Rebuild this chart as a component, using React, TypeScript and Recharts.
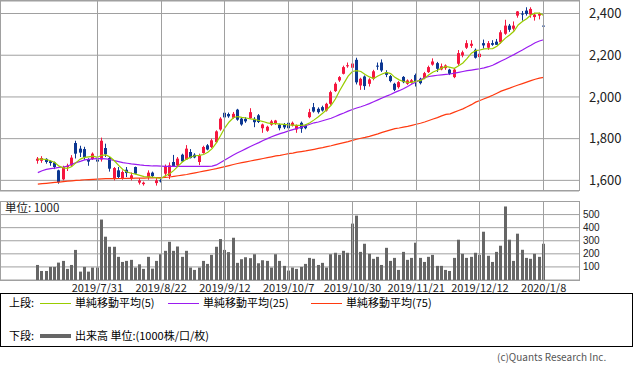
import { ComposedChart, Bar, Line, XAxis, YAxis, CartesianGrid } from "recharts";

const FONT = '"Noto Sans CJK JP", "Noto Sans", sans-serif';
const UP = "#f5173f";
const DOWN = "#0c3792";
const GRID = "#a0a0a0";

// trading days 2019/7/10 - 2020/1/8
const dates = [
  "2019/7/10", "2019/7/11", "2019/7/12", "2019/7/16", "2019/7/17", "2019/7/18", "2019/7/19", "2019/7/22", "2019/7/23", "2019/7/24",
  "2019/7/25", "2019/7/26", "2019/7/29", "2019/7/30", "2019/7/31", "2019/8/1", "2019/8/2", "2019/8/5", "2019/8/6", "2019/8/7",
  "2019/8/8", "2019/8/9", "2019/8/13", "2019/8/14", "2019/8/15", "2019/8/16", "2019/8/19", "2019/8/20", "2019/8/21", "2019/8/22",
  "2019/8/23", "2019/8/26", "2019/8/27", "2019/8/28", "2019/8/29", "2019/8/30", "2019/9/2", "2019/9/3", "2019/9/4", "2019/9/5",
  "2019/9/6", "2019/9/9", "2019/9/10", "2019/9/11", "2019/9/12", "2019/9/13", "2019/9/17", "2019/9/18", "2019/9/19", "2019/9/20",
  "2019/9/24", "2019/9/25", "2019/9/26", "2019/9/27", "2019/9/30", "2019/10/1", "2019/10/2", "2019/10/3", "2019/10/4", "2019/10/7",
  "2019/10/8", "2019/10/9", "2019/10/10", "2019/10/11", "2019/10/15", "2019/10/16", "2019/10/17", "2019/10/18", "2019/10/21", "2019/10/23",
  "2019/10/24", "2019/10/25", "2019/10/28", "2019/10/29", "2019/10/30", "2019/10/31", "2019/11/1", "2019/11/5", "2019/11/6", "2019/11/7",
  "2019/11/8", "2019/11/11", "2019/11/12", "2019/11/13", "2019/11/14", "2019/11/15", "2019/11/18", "2019/11/19", "2019/11/20", "2019/11/21",
  "2019/11/22", "2019/11/25", "2019/11/26", "2019/11/27", "2019/11/28", "2019/11/29", "2019/12/2", "2019/12/3", "2019/12/4", "2019/12/5",
  "2019/12/6", "2019/12/9", "2019/12/10", "2019/12/11", "2019/12/12", "2019/12/13", "2019/12/16", "2019/12/17", "2019/12/18", "2019/12/19",
  "2019/12/20", "2019/12/23", "2019/12/24", "2019/12/25", "2019/12/26", "2019/12/27", "2019/12/30", "2020/1/6", "2020/1/7", "2020/1/8",
];

const openPrice = [
  1694, 1694, 1703, 1692, 1686, 1648, 1605, 1664, 1672, 1779,
  1752, 1750, 1702, 1702, 1700, 1700, 1755, 1707, 1608, 1648,
  1608, 1651, 1611, 1664, 1589, 1582, 1616, 1637, 1587, 1600,
  1632, 1621, 1688, 1672, 1723, 1700, 1736, 1723, 1688, 1731,
  1768, 1760, 1783, 1844, 1924, 1918, 1900, 1939, 1896, 1895,
  1898, 1895, 1912, 1850, 1838, 1867, 1872, 1867, 1870, 1876,
  1863, 1844, 1876, 1863, 1903, 1951, 1943, 1951, 1935, 1967,
  2028, 2079, 2111, 2147, 2140, 2178, 2055, 2098, 2063, 2087,
  2150, 2165, 2119, 2100, 2063, 2047, 2096, 2063, 2069, 2105,
  2087, 2090, 2119, 2155, 2162, 2132, 2138, 2131, 2095, 2159,
  2199, 2236, 2245, 2226, 2191, 2258, 2236, 2258, 2265, 2262,
  2303, 2342, 2327, 2390, 2400, 2414, 2395, 2383, 2390, 2342,
];

const highPrice = [
  1712, 1716, 1706, 1696, 1690, 1651, 1670, 1680, 1721, 1790,
  1766, 1761, 1706, 1734, 1704, 1805, 1776, 1712, 1664, 1664,
  1648, 1664, 1638, 1666, 1610, 1594, 1648, 1642, 1613, 1606,
  1676, 1686, 1722, 1712, 1728, 1769, 1750, 1730, 1728, 1766,
  1774, 1800, 1840, 1903, 1935, 1925, 1928, 1943, 1900, 1903,
  1946, 1903, 1918, 1872, 1862, 1890, 1890, 1872, 1875, 1880,
  1882, 1868, 1882, 1868, 1943, 1971, 1950, 1958, 1972, 2030,
  2070, 2100, 2150, 2165, 2168, 2188, 2092, 2103, 2090, 2130,
  2165, 2180, 2128, 2105, 2068, 2076, 2100, 2084, 2086, 2112,
  2092, 2120, 2150, 2185, 2168, 2160, 2156, 2135, 2138, 2225,
  2222, 2272, 2272, 2232, 2214, 2275, 2268, 2272, 2278, 2320,
  2370, 2350, 2362, 2412, 2412, 2430, 2430, 2404, 2404, 2354,
];

const lowPrice = [
  1680, 1684, 1680, 1670, 1654, 1584, 1600, 1645, 1668, 1705,
  1712, 1699, 1670, 1698, 1686, 1690, 1712, 1642, 1600, 1610,
  1603, 1616, 1600, 1629, 1580, 1575, 1603, 1615, 1575, 1590,
  1618, 1606, 1665, 1664, 1688, 1698, 1705, 1706, 1673, 1728,
  1744, 1755, 1780, 1838, 1891, 1900, 1896, 1886, 1862, 1876,
  1895, 1855, 1875, 1828, 1833, 1862, 1866, 1840, 1846, 1845,
  1858, 1828, 1828, 1845, 1898, 1925, 1920, 1930, 1930, 1962,
  2024, 2072, 2108, 2140, 2135, 2060, 2034, 2034, 2050, 2080,
  2130, 2120, 2095, 2070, 2028, 2040, 2066, 2058, 2064, 2050,
  2060, 2085, 2115, 2150, 2120, 2128, 2130, 2105, 2090, 2150,
  2190, 2230, 2235, 2184, 2176, 2232, 2226, 2245, 2250, 2255,
  2298, 2312, 2318, 2380, 2366, 2390, 2380, 2366, 2372, 2298,
];

const closePrice = [
  1704, 1707, 1688, 1683, 1664, 1592, 1664, 1670, 1709, 1728,
  1733, 1712, 1690, 1728, 1690, 1790, 1725, 1656, 1659, 1616,
  1640, 1635, 1624, 1632, 1600, 1589, 1637, 1621, 1600, 1595,
  1669, 1672, 1669, 1704, 1691, 1752, 1707, 1710, 1720, 1760,
  1748, 1792, 1835, 1896, 1902, 1907, 1919, 1891, 1868, 1883,
  1927, 1879, 1880, 1868, 1857, 1883, 1887, 1850, 1854, 1850,
  1876, 1863, 1848, 1850, 1927, 1930, 1927, 1935, 1967, 2023,
  2063, 2095, 2143, 2152, 2160, 2070, 2087, 2052, 2084, 2123,
  2148, 2127, 2106, 2076, 2034, 2071, 2071, 2079, 2080, 2075,
  2066, 2114, 2143, 2170, 2135, 2147, 2151, 2111, 2131, 2210,
  2214, 2258, 2255, 2188, 2207, 2247, 2258, 2250, 2250, 2310,
  2342, 2322, 2342, 2410, 2395, 2398, 2422, 2395, 2398, 2339,
];

// 出来高 (1000株)
const volume = [
  115, 69, 69, 100, 100, 133, 146, 85, 115, 230,
  64, 100, 64, 95, 95, 462, 331, 254, 254, 177,
  138, 146, 154, 95, 120, 85, 177, 87, 146, 197,
  223, 292, 223, 256, 177, 223, 95, 77, 95, 146,
  123, 192, 254, 313, 230, 213, 323, 131, 159, 174,
  167, 197, 128, 151, 146, 95, 197, 146, 108, 72,
  95, 85, 100, 123, 169, 162, 115, 131, 95, 197,
  208, 192, 223, 208, 431, 492, 215, 277, 200, 162,
  177, 115, 246, 146, 169, 77, 215, 154, 169, 285,
  169, 138, 177, 192, 108, 108, 77, 69, 169, 308,
  200, 169, 177, 208, 192, 369, 185, 138, 215, 262,
  562, 308, 146, 354, 231, 169, 162, 200, 177, 277,
];

// moving averages as drawn
const ma5 = [
  1702, 1702, 1700, 1694, 1686, 1668, 1660, 1658, 1666, 1685,
  1702, 1710, 1713, 1716, 1710, 1720, 1722, 1712, 1694, 1672,
  1652, 1640, 1634, 1630, 1624, 1618, 1617, 1616, 1612, 1610,
  1622, 1632, 1648, 1668, 1688, 1702, 1712, 1718, 1720, 1724,
  1735, 1752, 1780, 1815, 1852, 1880, 1900, 1906, 1902, 1899,
  1895, 1892, 1887, 1882, 1876, 1872, 1872, 1870, 1868, 1866,
  1865, 1864, 1864, 1866, 1876, 1890, 1905, 1922, 1940, 1960,
  1990, 2030, 2065, 2100, 2122, 2126, 2122, 2108, 2096, 2088,
  2100, 2110, 2118, 2112, 2094, 2082, 2074, 2070, 2070, 2076,
  2078, 2090, 2106, 2120, 2128, 2138, 2146, 2142, 2137, 2150,
  2163, 2185, 2210, 2222, 2225, 2230, 2231, 2232, 2243, 2262,
  2282, 2297, 2315, 2345, 2362, 2375, 2393, 2402, 2402, 2390,
];

const ma25 = [
  1637, 1646, 1653, 1656, 1659, 1662, 1664, 1669, 1677, 1685,
  1691, 1698, 1701, 1703, 1704, 1704, 1703, 1700, 1695, 1690,
  1685, 1682, 1679, 1677, 1674, 1672, 1671, 1669, 1669, 1668,
  1667, 1667, 1667, 1667, 1667, 1667, 1667, 1667, 1667, 1667,
  1667, 1668, 1674, 1686, 1698, 1710, 1722, 1732, 1742, 1752,
  1762, 1772, 1781, 1791, 1800, 1809, 1817, 1824, 1830, 1837,
  1843, 1849, 1855, 1862, 1869, 1876, 1880, 1886, 1892, 1898,
  1906, 1915, 1923, 1932, 1940, 1947, 1953, 1960, 1968, 1977,
  1986, 1995, 2004, 2012, 2022, 2030, 2039, 2050, 2062, 2072,
  2082, 2092, 2098, 2101, 2104, 2106, 2108, 2110, 2114, 2118,
  2122, 2126, 2129, 2132, 2135, 2139, 2145, 2152, 2162, 2172,
  2182, 2193, 2203, 2214, 2225, 2237, 2248, 2260, 2268, 2274,
];

const ma75 = [
  1582, 1584, 1586, 1588, 1590, 1592, 1594, 1596, 1598, 1600,
  1601, 1603, 1604, 1605, 1606, 1607, 1608, 1608, 1608, 1609,
  1609, 1610, 1610, 1611, 1611, 1611, 1612, 1612, 1613, 1613,
  1614, 1616, 1619, 1622, 1625, 1628, 1632, 1636, 1640, 1644,
  1648, 1652, 1656, 1661, 1666, 1671, 1676, 1681, 1685, 1689,
  1693, 1697, 1701, 1705, 1709, 1713, 1717, 1720, 1724, 1728,
  1731, 1735, 1738, 1741, 1745, 1749, 1753, 1757, 1762, 1766,
  1771, 1776, 1781, 1786, 1792, 1797, 1802, 1806, 1811, 1817,
  1823, 1830, 1836, 1842, 1848, 1851, 1855, 1859, 1864, 1869,
  1874, 1880, 1887, 1894, 1901, 1909, 1916, 1919, 1927, 1935,
  1943, 1953, 1963, 1975, 1983, 1991, 1999, 2008, 2018, 2028,
  2035, 2042, 2050, 2057, 2064, 2071, 2078, 2085, 2090, 2094,
];

const tickDates = ["2019/7/31", "2019/8/22", "2019/9/12", "2019/10/7", "2019/10/30", "2019/11/21", "2019/12/12", "2020/1/8"];
const priceTicks = [1600, 1800, 2000, 2200, 2400];
const volumeTicks = [100, 200, 300, 400, 500];
const PRICE_DOMAIN = [1549, 2460];
const VOLUME_DOMAIN = [0, 600];

const legendTop = [
  { label: "単純移動平均(5)", color: "#99cc00", left: 40 },
  { label: "単純移動平均(25)", color: "#9b1cf0", left: 168 },
  { label: "単純移動平均(75)", color: "#ff3a10", left: 311 },
];

const rows = dates.map((date, i) => ({
  date,
  open: openPrice[i],
  high: highPrice[i],
  low: lowPrice[i],
  close: closePrice[i],
  range: [lowPrice[i], highPrice[i]],
  volume: volume[i],
  ma5: ma5[i],
  ma25: ma25[i],
  ma75: ma75[i],
}));

const PLOT_W = 579;
const xPadding = { left: 35.7, right: 33.2 };
// same band layout the category axis uses, for the date gridlines
const band = (PLOT_W - xPadding.left - xPadding.right) / dates.length;
const gridX = tickDates.map((d) => Math.floor(xPadding.left + (dates.indexOf(d) + 0.5) * band));

// draws wick + body inside the [low, high] bar that recharts laid out
const Candle = (props: any) => {
  const { x, y, width, height, payload } = props;
  if (x == null || y == null || !payload) return null;
  const top = Math.min(y, y + height);
  const h = Math.abs(height);
  const span = payload.high - payload.low || 1;
  const py = (v: number) => top + ((payload.high - v) / span) * h;
  const color = payload.close >= payload.open ? UP : DOWN;
  const cx = Math.floor(x + width / 2);
  const bodyTop = py(Math.max(payload.open, payload.close));
  const bodyBot = py(Math.min(payload.open, payload.close));
  return (
    <g>
      <rect x={cx} y={top} width={1} height={Math.max(h, 1)} fill={color} />
      <rect x={cx - 1} y={bodyTop} width={3} height={Math.max(bodyBot - bodyTop, 1)} fill={color} />
    </g>
  );
};

const VolumeBar = (props: any) => {
  const { x, y, width, height } = props;
  if (x == null || y == null) return null;
  const cx = Math.floor(x + width / 2);
  return <rect x={cx - 1} y={Math.min(y, y + height)} width={3} height={Math.abs(height)} fill="#666666" />;
};

const frame = (top: number, height: number): React.CSSProperties => ({
  position: "absolute",
  left: 0,
  top,
  width: PLOT_W + 1,
  height,
  boxSizing: "border-box",
  border: `1px solid ${GRID}`,
});

const vLine = (left: number, top: number, height: number): React.CSSProperties => ({
  position: "absolute",
  left,
  top,
  width: 1,
  height,
  background: GRID,
  zIndex: 2,
  pointerEvents: "none",
});

const textStyle = (left: number, top: number, size: number, color = "#000"): React.CSSProperties => ({
  position: "absolute",
  left,
  top,
  fontSize: size,
  lineHeight: `${size + 2}px`,
  color,
  whiteSpace: "nowrap",
});

export default function App() {
  return (
    <div
      style={{
        position: "absolute",
        left: 0,
        top: 0,
        width: 633,
        height: 371,
        background: "#fff",
        fontFamily: FONT,
        overflow: "hidden",
      }}
    >
      <div style={frame(0, 191)} />
      <div style={frame(201, 80)} />

      {/* price panel */}
      <div style={{ position: "absolute", left: 0, top: 0, zIndex: 1 }}>
        <ComposedChart width={633} height={192} data={rows} margin={{ top: 1, right: 0, bottom: 1, left: 0 }}>
          <CartesianGrid stroke={GRID} vertical={false} />
          <XAxis
            dataKey="date"
            ticks={tickDates}
            interval={0}
            tick={false}
            tickLine={false}
            axisLine={false}
            height={0}
            padding={xPadding}
          />
          <YAxis
            orientation="right"
            width={54}
            domain={PRICE_DOMAIN}
            ticks={priceTicks}
            interval={0}
            allowDataOverflow
            axisLine={false}
            tickLine={false}
            tickSize={6}
            tickMargin={4}
            tick={{ fontSize: 13, fill: "#222", textAnchor: "start" }}
            tickFormatter={(v: number) => v.toLocaleString("en-US")}
          />
          <Bar dataKey="range" shape={<Candle />} isAnimationActive={false} />
          <Line dataKey="ma75" stroke="#ff3a10" strokeWidth={1.2} dot={false} activeDot={false} isAnimationActive={false} />
          <Line dataKey="ma25" stroke="#9b1cf0" strokeWidth={1.2} dot={false} activeDot={false} isAnimationActive={false} />
          <Line dataKey="ma5" stroke="#99cc00" strokeWidth={1.2} dot={false} activeDot={false} isAnimationActive={false} />
        </ComposedChart>
      </div>

      {/* volume panel */}
      <div style={{ position: "absolute", left: 0, top: 200, zIndex: 1 }}>
        <ComposedChart width={633} height={100} data={rows} margin={{ top: 1.5, right: 0, bottom: 0, left: 0 }}>
          <CartesianGrid stroke={GRID} vertical={false} />
          <XAxis
            dataKey="date"
            ticks={tickDates}
            interval={0}
            height={20}
            axisLine={false}
            tickLine={false}
            tickSize={2}
            tickMargin={2}
            padding={xPadding}
            tick={{ fontSize: 11, fill: "#222" }}
          />
          <YAxis
            orientation="right"
            width={54}
            domain={VOLUME_DOMAIN}
            ticks={volumeTicks}
            interval={0}
            axisLine={false}
            tickLine={false}
            tickSize={0}
            tickMargin={4}
            tick={{ fontSize: 10, fill: "#222", textAnchor: "start", fontFamily: '"Liberation Sans", Arial, sans-serif' }}
          />
          <Bar dataKey="volume" shape={<VolumeBar />} isAnimationActive={false} />
        </ComposedChart>
      </div>

      {/* date gridlines, laid over both panels */}
      {gridX.map((gx) => (
        <div key={`u${gx}`} style={vLine(gx, 1, 189)} />
      ))}
      {gridX.map((gx) => (
        <div key={`l${gx}`} style={vLine(gx, 202, 78)} />
      ))}

      <div style={{ ...textStyle(5, 201, 11.5, "#222"), zIndex: 3 }}>単位: 1000</div>

      {/* legend */}
      <div
        style={{
          position: "absolute",
          left: 0,
          top: 293,
          width: 633,
          height: 54,
          boxSizing: "border-box",
          border: "1px solid #000",
        }}
      />
      <div style={textStyle(9, 296, 11)}>上段:</div>
      {legendTop.map((item) => (
        <div key={item.label}>
          <div style={{ position: "absolute", left: item.left, top: 303, width: 31, height: 1, background: item.color }} />
          <div style={textStyle(item.left + 35, 296, 11)}>{item.label}</div>
        </div>
      ))}
      <div style={textStyle(9, 329, 11)}>下段:</div>
      <div style={{ position: "absolute", left: 40, top: 334, width: 31, height: 4, background: "#666" }} />
      <div style={textStyle(75, 329, 11)}>出来高 単位:(1000株/口/枚)</div>

      <div style={textStyle(497, 351, 10, "#555")}>(c)Quants Research Inc.</div>
    </div>
  );
}
